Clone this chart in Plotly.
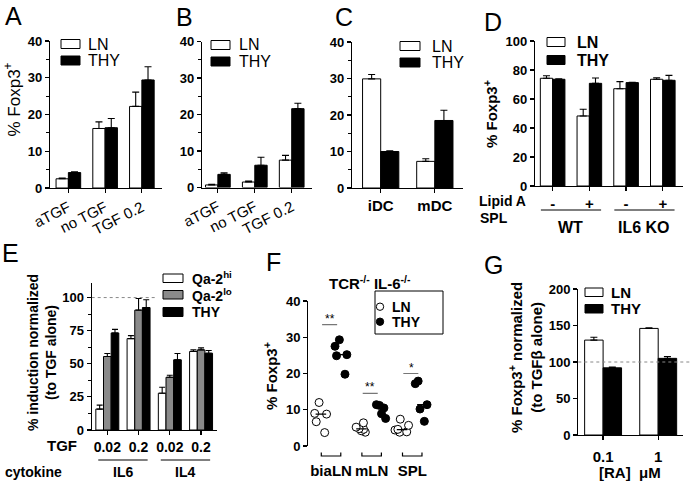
import plotly.graph_objects as go
import numpy as np

W, H = 690, 481
FONT = "Liberation Sans, Arial, sans-serif"

# ---------------- data ----------------
A_cats = ["aTGF", "no TGF", "TGF 0.2"]
A_LN = [2.5, 16.2, 22.2]
A_LN_err = [0.2, 1.8, 3.9]
A_THY = [4.2, 16.4, 29.4]
A_THY_err = [0.2, 2.5, 3.6]

B_cats = ["aTGF", "no TGF", "TGF 0.2"]
B_LN = [0.7, 1.5, 7.5]
B_LN_err = [0.2, 0.3, 1.3]
B_THY = [3.6, 6.1, 21.6]
B_THY_err = [0.4, 2.2, 1.5]

C_cats = ["iDC", "mDC"]
C_LN = [29.9, 7.3]
C_LN_err = [1.2, 0.7]
C_THY = [10.0, 18.5]
C_THY_err = [0.2, 2.8]

D_lipidA = ["-", "+", "-", "+"]
D_spl = ["WT", "IL6 KO"]
D_LN = [74.3, 48.3, 67.1, 73.6]
D_LN_err = [1.7, 4.6, 4.9, 1.1]
D_THY = [73.6, 70.8, 71.3, 72.9]
D_THY_err = [0.4, 3.7, 0.3, 3.4]

E_tgf = ["0.02", "0.2", "0.02", "0.2"]
E_cytokine = ["IL6", "IL4"]
E_hi = [15.8, 69.0, 27.8, 59.3]
E_hi_err = [3.0, 2.3, 4.5, 1.2]
E_lo = [55.5, 90.5, 39.8, 60.5]
E_lo_err = [2.3, 8.8, 1.5, 1.5]
E_THY = [73.3, 92.5, 53.0, 58.0]
E_THY_err = [2.7, 5.8, 4.8, 2.0]

F_cats = ["biaLN", "mLN", "SPL"]
F_LN = [[12.0, 9.0, 8.8, 6.7, 3.7],
        [6.4, 5.2, 4.8, 4.6, 4.2, 3.8],
        [7.4, 5.7, 4.6, 4.4, 3.9, 3.8]]
F_THY = [[29.3, 27.5, 25.2, 24.9, 19.8],
         [11.4, 11.2, 10.5, 8.9, 7.6],
         [17.9, 17.2, 11.4, 10.2, 6.8]]
F_sig = ["**", "**", "*"]
F_sig_y = [33.5, 14.5, 20.0]

G_cats = ["0.1", "1"]
G_LN = [130, 146]
G_LN_err = [4, 1]
G_THY = [92, 105]
G_THY_err = [1, 2.5]

# ---------------- helpers ----------------
def fx(p):
    return p / W


def fy(p):
    return 1 - p / H


def tfont(size, bold=True):
    return dict(family=FONT, size=size, color="black", weight="bold" if bold else "normal")


WHITE, BLACK, GRAY = "#ffffff", "#000000", "#8a8a8a"

fig = go.Figure()
shapes = []
annos = []


def bar(idx, x, y, err, fill, capw=3.5, **kw):
    n = len(y)
    return go.Bar(
        x=x, y=y, xaxis=f"x{idx}", yaxis=f"y{idx}",
        marker=dict(color=fill, line=dict(color="black", width=1)),
        error_y=dict(type="data", symmetric=False, array=err, arrayminus=[0] * n,
                     color="black", thickness=1.1, width=capw),
        showlegend=False, hoverinfo="skip", **kw)


AX = dict(showline=True, linecolor="black", linewidth=1.2, ticks="outside",
          tickcolor="black", tickwidth=1.2, ticklen=4, showgrid=False,
          zeroline=False, fixedrange=True, automargin=False)


def set_axes(idx, xpx, ypx, xr, yr, dtick, ticktext, minor=None, yfs=13,
             xfont=None, xangle=0, xline=True, xticks="outside", xstandoff=None):
    xname = "xaxis" if idx == 1 else f"xaxis{idx}"
    yname = "yaxis" if idx == 1 else f"yaxis{idx}"
    ya = dict(AX, domain=[fy(ypx[1]), fy(ypx[0])], range=yr, tick0=0, dtick=dtick,
              anchor=f"x{idx}", tickfont=tfont(yfs))
    if minor:
        ya["minor"] = dict(ticks="outside", dtick=minor, ticklen=2.5,
                           tickcolor="black", tickwidth=1.2)
    xa = dict(AX, domain=[fx(xpx[0]), fx(xpx[1])], range=xr,
              tickvals=list(range(len(ticktext))), ticktext=ticktext,
              anchor=f"y{idx}", tickangle=xangle,
              tickfont=xfont or tfont(14), showline=xline, ticks=xticks)
    if xstandoff is not None:
        xa["ticklabelstandoff"] = xstandoff
    fig.update_layout(**{xname: xa, yname: ya})


def swatch(x0, y0, w, h, fill, label, tx, size, bold):
    shapes.append(dict(type="rect", xref="paper", yref="paper",
                       x0=fx(x0), x1=fx(x0 + w), y0=fy(y0 + h), y1=fy(y0),
                       fillcolor=fill, line=dict(color="black", width=1)))
    annos.append(dict(xref="paper", yref="paper", x=fx(tx), y=fy(y0 + h / 2),
                      text=label, xanchor="left", yanchor="middle",
                      showarrow=False, font=tfont(size, bold)))


def text(x, y, s, size, bold=True, xanchor="center", angle=0, xref="paper", yanchor="middle"):
    annos.append(dict(xref=xref, yref="paper", x=fx(x) if xref == "paper" else x,
                      y=fy(y), text=s, xanchor=xanchor, yanchor=yanchor,
                      showarrow=False, textangle=angle, font=tfont(size, bold)))


# ---------------- Panel A ----------------
xa = list(range(len(A_cats)))
fig.add_trace(bar(1, xa, A_LN, A_LN_err, WHITE))
fig.add_trace(bar(1, xa, A_THY, A_THY_err, BLACK))
set_axes(1, (50, 161.7), (41, 188), (-0.5, 2.54), (0, 40), 10, A_cats, minor=5,
         xfont=tfont(15, False), xangle=-27)
swatch(61, 39.5, 19, 9, WHITE, "LN", 86, 16, False)
swatch(61, 56, 19, 9, BLACK, "THY", 86, 16, False)
text(12.5, 100, "% Foxp3<sup>+</sup>", 17, bold=False, angle=-90)

# ---------------- Panel B ----------------
xb = list(range(len(B_cats)))
fig.add_trace(bar(2, xb, B_LN, B_LN_err, WHITE))
fig.add_trace(bar(2, xb, B_THY, B_THY_err, BLACK))
set_axes(2, (202, 312), (41.5, 187.5), (-0.43, 2.55), (0, 40), 10, B_cats, minor=5,
         xfont=tfont(15, False), xangle=-27)
swatch(211, 40.5, 19, 9, WHITE, "LN", 237, 16, False)
swatch(211, 57, 19, 9, BLACK, "THY", 237, 16, False)

# ---------------- Panel C ----------------
xc = list(range(len(C_cats)))
fig.add_trace(bar(3, xc, C_LN, C_LN_err, WHITE))
fig.add_trace(bar(3, xc, C_THY, C_THY_err, BLACK))
set_axes(3, (352, 463), (42, 188), (-0.53, 1.52), (0, 40), 10, C_cats, minor=5,
         xfont=tfont(15))
swatch(400, 41.5, 20, 9, WHITE, "LN", 430, 16, False)
swatch(400, 58, 20, 9, BLACK, "THY", 430, 16, False)

# ---------------- Panel D ----------------
xd = list(range(len(D_lipidA)))
fig.add_trace(bar(4, xd, D_LN, D_LN_err, WHITE))
fig.add_trace(bar(4, xd, D_THY, D_THY_err, BLACK))
set_axes(4, (535, 683), (41, 186), (-0.48, 3.55), (0, 100), 20, D_lipidA,
         xfont=tfont(15))
swatch(547, 37.5, 18, 9, WHITE, "LN", 575, 16, True)
swatch(547, 55.5, 18, 9, BLACK, "THY", 575, 16, True)
text(490, 114, "% Foxp3<sup>+</sup>", 15, angle=-90)
text(528, 201, "Lipid A", 14, xanchor="right")
text(478, 218, "SPL", 14, xanchor="left")
for g, lab in enumerate(D_spl):
    c = 2 * g + 0.5
    shapes.append(dict(type="line", xref="x4", yref="paper", x0=c - 0.82, x1=c + 0.82,
                       y0=fy(210), y1=fy(210), line=dict(color="black", width=1.2)))
    text(c, 227, lab, 16, xref="x4")

# ---------------- Panel E ----------------
xe = list(range(len(E_tgf)))
bw = 0.245
for k, (vals, errs, col) in enumerate([(E_hi, E_hi_err, WHITE), (E_lo, E_lo_err, GRAY),
                                        (E_THY, E_THY_err, BLACK)]):
    fig.add_trace(bar(5, xe, vals, errs, col, capw=3, width=bw, offset=-1.5 * bw + k * bw))
set_axes(5, (91.7, 216.7), (283, 430), (-0.5, 3.5), (0, 111), 25, E_tgf, minor=12.5,
         xfont=tfont(14))
shapes.append(dict(type="line", xref="x5", yref="y5", x0=-0.5, x1=1.55, y0=100, y1=100,
                   line=dict(color="#888888", width=1, dash="dot")))
swatch(163, 274, 20, 8.5, WHITE, "Qa-2<sup>hi</sup>", 190, 14, True)
swatch(163, 290.5, 20, 8.5, GRAY, "Qa-2<sup>lo</sup>", 190, 14, True)
swatch(163, 307.5, 20, 9, BLACK, "THY", 190, 14, True)
text(42, 353, "% induction normalized<br>(to TGF alone)", 14, angle=-90)
text(62, 445, "TGF", 15)
text(33, 472, "cytokine", 14)
for g, lab in enumerate(E_cytokine):
    c = 2 * g + 0.5
    shapes.append(dict(type="line", xref="x5", yref="paper", x0=c - 0.79, x1=c + 0.79,
                       y0=fy(460), y1=fy(460), line=dict(color="black", width=1.2)))
    text(c, 472, lab, 14, xref="x5")

# ---------------- Panel F ----------------
for k, (groups, fill) in enumerate([(F_LN, WHITE), (F_THY, BLACK)]):
    off = -0.25 if k == 0 else 0.25
    xs, ys, mx, my = [], [], [], []
    for i, vals in enumerate(groups):
        xs += [i + off] * len(vals)
        ys += vals
        m = float(np.median(vals))
        mx += [i + off - 0.13, i + off + 0.13, None]
        my += [m, m, None]
    fig.add_trace(go.Box(x=xs, y=ys, xaxis="x6", yaxis="y6", boxpoints="all",
                         jitter=0.9, pointpos=0, width=0.4,
                         fillcolor="rgba(0,0,0,0)",
                         line=dict(width=0, color="rgba(0,0,0,0)"),
                         marker=dict(size=8, color=fill, line=dict(color="black", width=1)),
                         showlegend=False, hoverinfo="skip"))
    fig.add_trace(go.Scatter(x=mx, y=my, xaxis="x6", yaxis="y6", mode="lines",
                             line=dict(color="black", width=1.3), showlegend=False,
                             hoverinfo="skip"))
set_axes(6, (308.3, 450), (301, 446), (-0.56, 2.93), (0, 40), 10, F_cats,
         xfont=tfont(15), xline=False, xticks="", xstandoff=14)
for i, (s, yv) in enumerate(zip(F_sig, F_sig_y)):
    shapes.append(dict(type="line", xref="x6", yref="y6", x0=i - 0.22, x1=i + 0.15,
                       y0=yv, y1=yv, line=dict(color="#777777", width=1.2)))
    annos.append(dict(xref="x6", yref="y6", x=i - 0.03, y=yv, yshift=6, text=s,
                      showarrow=False, font=tfont(12, False)))
    shapes.append(dict(type="path", xref="x6", yref="paper",
                       path=f"M {i - 0.24},{fy(452.5)} L {i - 0.24},{fy(456)} "
                            f"L {i + 0.24},{fy(456)} L {i + 0.24},{fy(452.5)}",
                       line=dict(color="black", width=1.2)))
text(370, 282, "TCR<sup>-/-</sup> IL-6<sup>-/-</sup>", 15)
text(270, 376, "% Foxp3<sup>+</sup>", 15, angle=-90)
shapes.append(dict(type="rect", xref="paper", yref="paper", x0=fx(375), x1=fx(443),
                   y0=fy(334), y1=fy(291), line=dict(color="black", width=1)))
for yy, col, lab in [(306.7, WHITE, "LN"), (321.7, BLACK, "THY")]:
    shapes.append(dict(type="circle", xref="paper", yref="paper",
                       x0=fx(380 - 3.7), x1=fx(380 + 3.7), y0=fy(yy + 3.7), y1=fy(yy - 3.7),
                       fillcolor=col, line=dict(color="black", width=1)))
    annos.append(dict(xref="paper", yref="paper", x=fx(390), y=fy(yy), text=lab,
                      xanchor="left", yanchor="middle", showarrow=False, font=tfont(14)))

# ---------------- Panel G ----------------
xg = list(range(len(G_cats)))
fig.add_trace(bar(7, xg, G_LN, G_LN_err, WHITE))
fig.add_trace(bar(7, xg, G_THY, G_THY_err, BLACK))
set_axes(7, (578.3, 683), (289, 435), (-0.45, 1.45), (0, 200), 50, G_cats,
         xfont=tfont(15), xstandoff=4)
shapes.append(dict(type="line", xref="paper", yref="y7", x0=fx(578.3), x1=1, y0=100, y1=100,
                   line=dict(color="#888888", width=1, dash="dot")))
swatch(585, 288, 18, 8.5, WHITE, "LN", 609, 15, True)
swatch(585, 304.5, 18, 8.5, BLACK, "THY", 609, 15, True)
text(525, 358, "% Foxp3<sup>+</sup> normalized<br>(to TGFβ alone)", 15, angle=-90)
text(615, 472, "[RA]", 15)
text(650, 472, "μM", 15)

# ---------------- panel letters ----------------
for L, cx, cy in [("A", 14, 16), ("B", 184, 17), ("C", 344, 17), ("D", 493, 22),
                  ("E", 10, 253), ("F", 273, 262), ("G", 493, 265)]:
    text(cx, cy, L, 25, bold=False)

fig.update_layout(
    template="none",
    width=W, height=H, margin=dict(l=0, r=0, t=0, b=0, autoexpand=False),
    paper_bgcolor="white", plot_bgcolor="white",
    barmode="group", bargap=0.33, bargroupgap=0,
    shapes=shapes, annotations=annos, showlegend=False,
    font=dict(family=FONT, color="black"),
)
fig.write_html("out.html", config={"displayModeBar": False, "staticPlot": True},
               post_script="document.body.style.margin='0px';document.body.style.overflow='hidden';")
